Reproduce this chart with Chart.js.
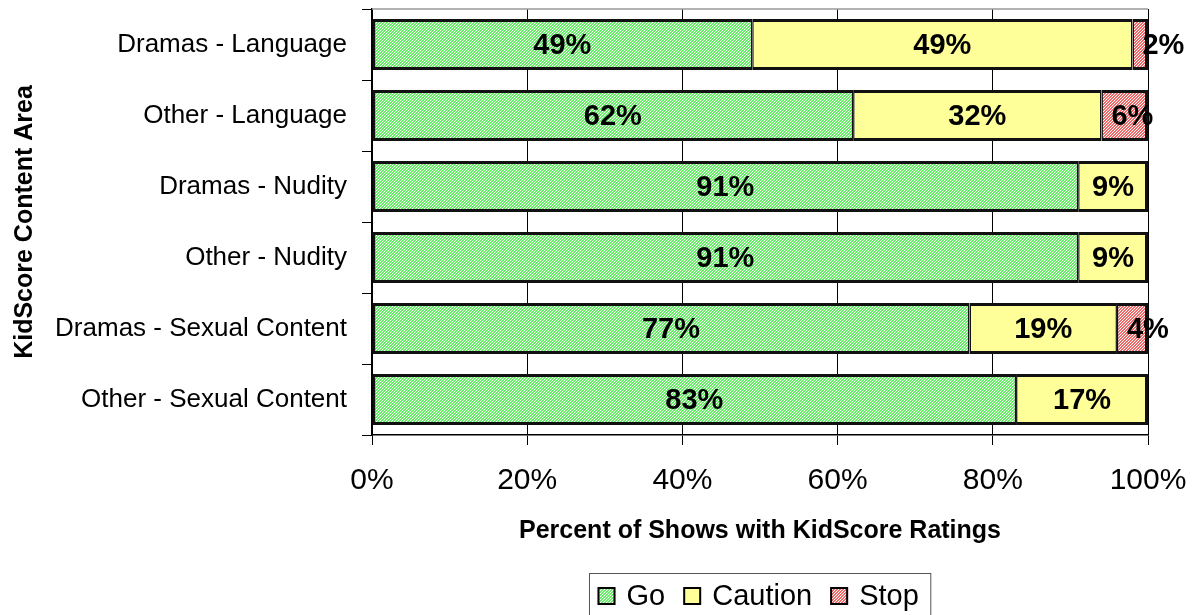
<!DOCTYPE html>
<html>
<head>
<meta charset="utf-8">
<script src="https://cdn.jsdelivr.net/npm/chart.js@4.4.1/dist/chart.umd.min.js"></script>
<style>
html,body{margin:0;padding:0;background:#fff;}
#wrap{width:1195px;height:615px;position:relative;}
</style>
</head>
<body>
<div id="wrap"><canvas id="c" width="1195" height="615"></canvas></div>
<script>
// ---- data ----
const categories = ["Dramas - Language", "Other - Language", "Dramas - Nudity", "Other - Nudity", "Dramas - Sexual Content", "Other - Sexual Content"];
const goValues      = [49, 62, 91, 91, 77, 83];
const cautionValues = [49, 32, 9, 9, 19, 17];
const stopValues    = [2, 6, 0, 0, 4, 0];
const seriesNames   = ["Go", "Caution", "Stop"];
const xTickValues   = [0, 20, 40, 60, 80, 100];
const xTitle = "Percent of Shows with KidScore Ratings";
const yTitle = "KidScore Content Area";

const FONT = "'Liberation Sans', Arial, Helvetica, sans-serif";

function makePattern(base, line) {
  const t = document.createElement('canvas');
  t.width = 3; t.height = 3;
  const g = t.getContext('2d');
  g.fillStyle = base; g.fillRect(0, 0, 3, 3);
  g.fillStyle = line;
  for (let i = 0; i < 3; i++) g.fillRect(i, 2 - i, 1, 1);
  return g.createPattern(t, 'repeat');
}
const ctx = document.getElementById('c').getContext('2d');
const goFill = makePattern('#66EE66', '#ffffff');
const cautionFill = '#FFFF99';
const stopFill = makePattern('#F06A6A', '#ffffff');
const fills = [goFill, cautionFill, stopFill];

const seriesData = [goValues, cautionValues, stopValues];

function borderFor(c) {
  const d = c.datasetIndex, i = c.dataIndex;
  let isLast = true;
  for (let k = d + 1; k < seriesData.length; k++) if (seriesData[k][i]) isLast = false;
  return { top: 3, bottom: 3, left: d === 0 ? 3 : 1.5, right: isLast ? 3 : 1.5 };
}

const datasets = seriesData.map((vals, d) => ({
  label: seriesNames[d],
  data: vals.map(v => v ? v : null),
  backgroundColor: fills[d],
  borderColor: '#111',
  borderWidth: borderFor,
  borderSkipped: false,
  inflateAmount: 0,
  barPercentage: 0.72,
  categoryPercentage: 1.0
}));

const labelPlugin = {
  id: 'vlabels',
  afterDatasetsDraw(chart) {
    const c = chart.ctx;
    c.save();
    c.font = 'bold 29px ' + FONT;
    c.fillStyle = '#000';
    c.textAlign = 'center';
    c.textBaseline = 'middle';
    chart.data.datasets.forEach((ds, d) => {
      const meta = chart.getDatasetMeta(d);
      meta.data.forEach((el, i) => {
        const v = ds.data[i];
        if (!v) return;
        const txt = v + '%';
        const w = c.measureText(txt).width;
        const start = Math.min(el.x, el.base), end = Math.max(el.x, el.base);
        const cx = Math.max((start + end) / 2, start + 10 + w / 2);
        c.fillText(txt, cx, el.y + 1);
      });
    });
    c.restore();
  }
};

const framePlugin = {
  id: 'frame',
  beforeDatasetsDraw(chart) {
    const a = chart.chartArea, c = chart.ctx;
    c.save();
    c.strokeStyle = '#999';
    c.lineWidth = 1.5;
    c.beginPath();
    c.moveTo(a.left, a.top);
    c.lineTo(a.right, a.top);
    c.stroke();
    c.restore();
  },
  afterDraw(chart) {
    const a = chart.chartArea, c = chart.ctx;
    c.save();
    c.font = '29px ' + FONT;
    const box = 18, gapText = 11, gapItem = 18;
    const widths = seriesNames.map(n => c.measureText(n).width);
    let itemsW = 0;
    widths.forEach((w, k) => { itemsW += box + gapText + w + (k < widths.length - 1 ? gapItem : 0); });
    const W = itemsW + 8 + 12;
    const fx = Math.round((a.left + a.right) / 2 - W / 2) + 0.5;
    const fy = 573.5;
    c.strokeStyle = '#555';
    c.lineWidth = 1;
    c.strokeRect(fx, fy, W, 60);
    let x = fx + 8;
    const cy = 596;
    widths.forEach((w, k) => {
      c.fillStyle = fills[k];
      c.fillRect(x, cy - 9, box, box);
      c.strokeStyle = '#000';
      c.lineWidth = 2;
      c.strokeRect(x + 1, cy - 8, box - 2, box - 2);
      c.fillStyle = '#000';
      c.textAlign = 'left';
      c.textBaseline = 'middle';
      c.fillText(seriesNames[k], x + box + gapText, cy + 1);
      x += box + gapText + w + gapItem;
    });
    c.restore();
  }
};

new Chart(ctx, {
  type: 'bar',
  data: { labels: categories, datasets },
  options: {
    indexAxis: 'y',
    responsive: false,
    animation: false,
    devicePixelRatio: 1,
    layout: { padding: { left: 0, right: 47, top: 9, bottom: 65 } },
    plugins: { legend: { display: false }, tooltip: { enabled: false } },
    scales: {
      x: {
        stacked: true,
        min: 0, max: 100,
        afterBuildTicks(s) { s.ticks = xTickValues.map(v => ({ value: v })); },
        afterFit(s) { s.height = 115; s.paddingLeft = 0; s.paddingRight = 0; },
        ticks: {
          callback: v => v + '%',
          color: '#000',
          font: { family: FONT, size: 30 },
          padding: 18,
          maxRotation: 0
        },
        grid: { color: '#000', lineWidth: 1, drawTicks: true, tickLength: 10, tickColor: '#000' },
        border: { display: true, color: '#000', width: 1.5 },
        title: {
          display: true, text: xTitle, color: '#000',
          font: { family: FONT, size: 25, weight: 'bold' },
          padding: { top: 0, bottom: 4 }
        }
      },
      y: {
        stacked: true,
        afterFit(s) { s.width = 372; s.paddingTop = 0; s.paddingBottom = 0; },
        ticks: { color: '#000', font: { family: FONT, size: 26 }, padding: 15 },
        grid: { drawOnChartArea: false, drawTicks: true, tickLength: 10, color: '#000', offset: true },
        border: { display: true, color: '#000', width: 1.5 },
        title: {
          display: true, text: yTitle, color: '#000',
          font: { family: FONT, size: 25, weight: 'bold' },
          padding: { top: 10, bottom: 0 }
        }
      }
    }
  },
  plugins: [labelPlugin, framePlugin]
});
</script>
</body>
</html>
